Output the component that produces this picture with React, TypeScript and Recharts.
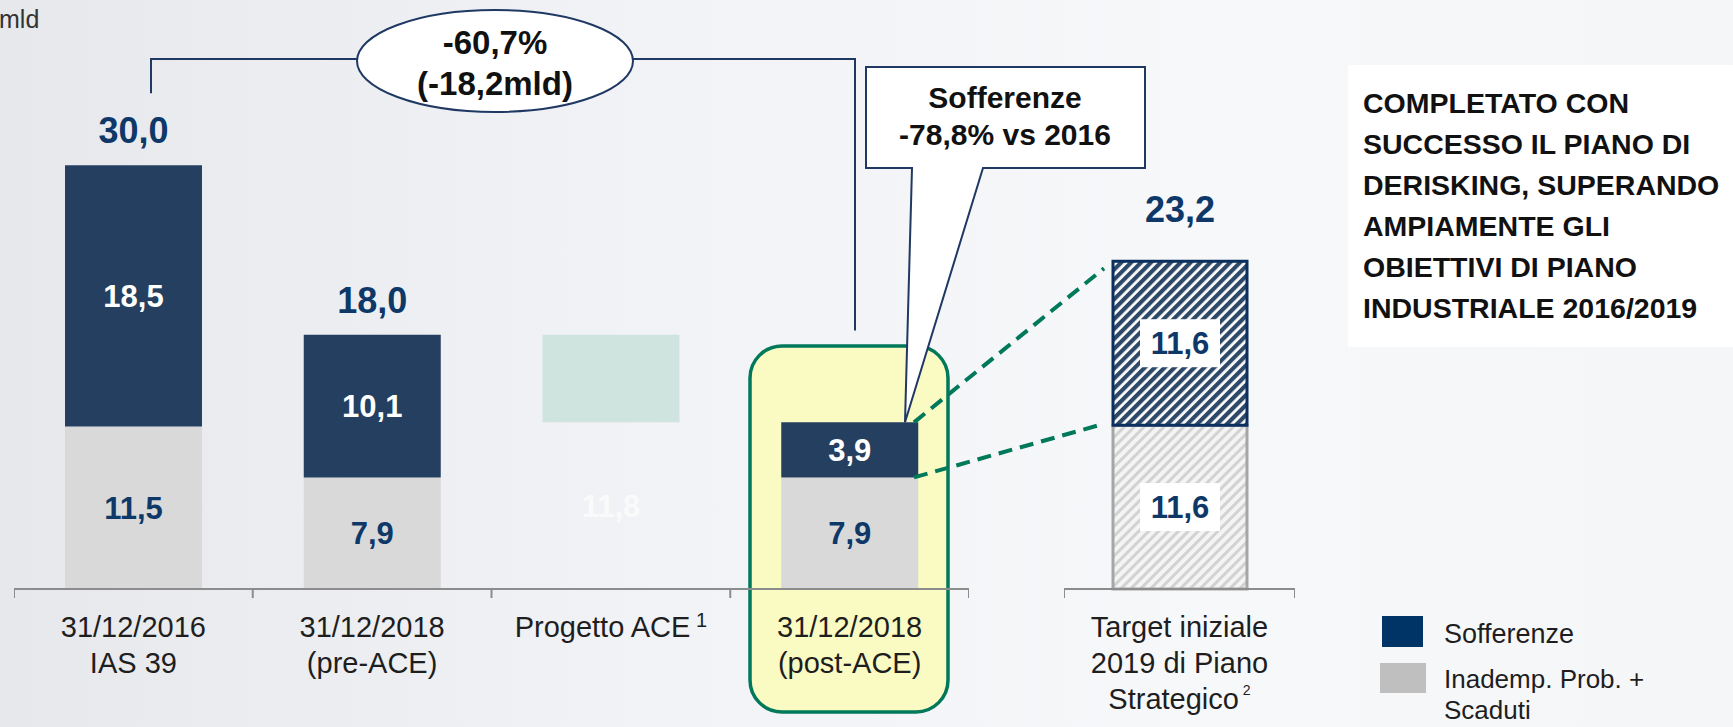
import React from 'react';
import { BarChart, Bar, XAxis, YAxis, LabelList } from 'recharts';

// ---------- data ----------
const categories = ['31/12/2016|IAS 39', '31/12/2018|(pre-ACE)', 'Progetto ACE', '31/12/2018|(post-ACE)'];
const categoryNotes = ['', '', '1', ''];
const inademp = [11.5, 7.9, 0, 7.9];
const sofferenze = [18.5, 10.1, 0, 3.9];
const aceBase = [0, 0, 11.8, 0];
const aceDelta = [0, 0, 6.2, 0];
const totalLabels = ['30,0', '18,0', '-6,2', '11,8'];

const targetCategory = 'Target iniziale|2019 di Piano|Strategico';
const targetNote = '2';
const targetInademp = [11.6];
const targetSofferenze = [11.6];
const targetTotal = ['23,2'];

const legendLabels = ['Sofferenze', 'Inademp. Prob. +|Scaduti'];
const rightText = ['COMPLETATO CON', 'SUCCESSO IL PIANO DI', 'DERISKING, SUPERANDO', 'AMPIAMENTE GLI', 'OBIETTIVI DI PIANO', 'INDUSTRIALE 2016/2019'];
const bracketText = ['-60,7%', '(-18,2mld)'];
const calloutText = ['Sofferenze', '-78,8% vs 2016'];

// ---------- layout ----------
const W = 1733;
const H = 727;
const PLOT_TOP = 24;
const AXIS_Y = 589;
const Y_MAX = 40;
const MAIN_LEFT = 14;
const MAIN_WIDTH = 955;
const TARGET_LEFT = 1064;
const TARGET_WIDTH = 231;
const FONT = '"Liberation Sans", Arial, sans-serif';
const NAVY = '#243F60';
const NAVY_TEXT = '#0E3868';
const GREY = '#D9D9D9';
const GREEN = '#00785A';

const yPx = (v: number) => AXIS_Y - (v * (AXIS_Y - PLOT_TOP)) / Y_MAX;

const mainData = categories.map((name, i) => ({
  name,
  note: categoryNotes[i],
  inademp: inademp[i],
  soff: sofferenze[i],
  base: aceBase[i],
  delta: aceDelta[i],
  total: totalLabels[i],
}));

const targetData = [
  { name: targetCategory, note: targetNote, inademp: targetInademp[0], soff: targetSofferenze[0], total: targetTotal[0] },
];

const fmt = (v: number) => v.toFixed(1).replace('.', ',');

const innerLabel = (color: string, opacity = 1) => (props: any) => {
  const { x, y, width, height, value } = props;
  if (!value) return null;
  return (
    <text
      x={Number(x) + Number(width) / 2}
      y={Number(y) + Number(height) / 2}
      dy="0.36em"
      textAnchor="middle"
      fill={color}
      fillOpacity={opacity}
      fontSize={31}
      fontWeight={700}
      fontFamily={FONT}
    >
      {fmt(Number(value))}
    </text>
  );
};

const boxedLabel = (props: any) => {
  const { x, y, width, height, value } = props;
  if (!value) return null;
  const cx = Number(x) + Number(width) / 2;
  const cy = Number(y) + Number(height) / 2;
  return (
    <g>
      <rect x={cx - 40} y={cy - 24} width={80} height={48} fill="#FFFFFF" />
      <text x={cx} y={cy} dy="0.36em" textAnchor="middle" fill={NAVY_TEXT} fontSize={31} fontWeight={700} fontFamily={FONT}>
        {fmt(Number(value))}
      </text>
    </g>
  );
};

const topLabel = (rows: any[], key: string, offset: number) => (props: any) => {
  const { x, y, width, index } = props;
  const row = rows[index];
  if (!row || !row[key]) return null;
  return (
    <text
      x={Number(x) + Number(width) / 2}
      y={Number(y) - offset}
      dy="0.36em"
      textAnchor="middle"
      fill={NAVY_TEXT}
      fontSize={36}
      fontWeight={700}
      fontFamily={FONT}
    >
      {row.total}
    </text>
  );
};

const makeTick = (bandWidth: number, count: number, rows: any[], edgesAll: boolean) => (props: any) => {
  const { x, payload, index } = props;
  const y = AXIS_Y;
  const lines = String(payload.value).split('|');
  const note = rows[index] ? rows[index].note : '';
  return (
    <g>
      <line x1={x - bandWidth / 2} x2={x - bandWidth / 2} y1={y} y2={y + 9} stroke="#8C8C8C" strokeWidth={2} />
      {(index === count - 1 || edgesAll) && (
        <line x1={x + bandWidth / 2} x2={x + bandWidth / 2} y1={y} y2={y + 9} stroke="#8C8C8C" strokeWidth={2} />
      )}
      <text textAnchor="middle" fill="#1E1E1E" fontSize={29} fontFamily={FONT}>
        {lines.map((l, i) => (
          <tspan key={i} x={x} y={y + 48 + i * 36}>
            {l}
            {i === lines.length - 1 && note ? (
              <tspan fontSize={i > 1 ? 14 : 20} dy={i > 1 ? -14 : -10}>{' ' + note}</tspan>
            ) : null}
          </tspan>
        ))}
      </text>
    </g>
  );
};

export default function App() {
  const mainBand = MAIN_WIDTH / categories.length;
  return (
    <div
      style={{
        position: 'fixed',
        left: 0,
        top: 0,
        width: W,
        height: H,
        overflow: 'hidden',
        background: 'linear-gradient(90deg, #E6E8EC 0%, #F1F2F5 35%, #F7F8FA 70%, #F5F6F8 100%)',
        fontFamily: FONT,
      }}
    >
      {/* highlight behind post-ACE column */}
      <svg width={W} height={H} style={{ position: 'absolute', left: 0, top: 0 }}>
        <rect x={750} y={346} width={198} height={366} rx={32} ry={32} fill="#FAFAC3" stroke={GREEN} strokeWidth={3.5} />
      </svg>

      <div style={{ position: 'absolute', left: MAIN_LEFT, top: 0 }}>
        <BarChart width={MAIN_WIDTH} height={H} data={mainData} margin={{ top: PLOT_TOP, right: 0, bottom: 0, left: 0 }} barSize={137}>
          <XAxis
            dataKey="name"
            height={H - AXIS_Y}
            axisLine={{ stroke: '#8C8C8C', strokeWidth: 2 }}
            tickLine={false}
            tickSize={0}
            tickMargin={0}
            interval={0}
            tick={makeTick(mainBand, categories.length, mainData, false)}
          />
          <YAxis hide domain={[0, Y_MAX]} />
          <Bar dataKey="inademp" stackId="s" fill={GREY} isAnimationActive={false}>
            <LabelList dataKey="inademp" content={innerLabel(NAVY_TEXT)} />
          </Bar>
          <Bar dataKey="soff" stackId="s" fill={NAVY} isAnimationActive={false}>
            <LabelList dataKey="soff" content={innerLabel('#FFFFFF')} />
            <LabelList dataKey="total" content={topLabel(mainData, 'soff', 35)} />
          </Bar>
          <Bar dataKey="base" stackId="s" fill="transparent" isAnimationActive={false}>
            <LabelList dataKey="base" content={innerLabel('#FFFFFF', 0.7)} />
          </Bar>
          <Bar dataKey="delta" stackId="s" fill="#CFE4DE" isAnimationActive={false}>
            <LabelList dataKey="total" content={topLabel(mainData, 'delta', 26)} />
          </Bar>
        </BarChart>
      </div>

      <div style={{ position: 'absolute', left: TARGET_LEFT, top: 0 }}>
        <BarChart width={TARGET_WIDTH} height={H} data={targetData} margin={{ top: PLOT_TOP, right: 0, bottom: 0, left: 0 }} barSize={134}>
          <defs>
            <pattern id="hatchNavy" patternUnits="userSpaceOnUse" width="7" height="7" patternTransform="rotate(45)">
              <rect width="7" height="7" fill="#FFFFFF" />
              <rect width="4.2" height="7" fill="#2E4868" />
            </pattern>
            <pattern id="hatchGrey" patternUnits="userSpaceOnUse" width="7" height="7" patternTransform="rotate(45)">
              <rect width="7" height="7" fill="#F4F4F4" />
              <rect width="3" height="7" fill="#D2D2D2" />
            </pattern>
          </defs>
          <XAxis
            dataKey="name"
            height={H - AXIS_Y}
            axisLine={{ stroke: '#8C8C8C', strokeWidth: 2 }}
            tickLine={false}
            tickSize={0}
            tickMargin={0}
            interval={0}
            tick={makeTick(TARGET_WIDTH, 1, targetData, true)}
          />
          <YAxis hide domain={[0, Y_MAX]} />
          <Bar dataKey="inademp" stackId="t" fill="url(#hatchGrey)" stroke="#A6A6A6" strokeWidth={3} isAnimationActive={false}>
            <LabelList dataKey="inademp" content={boxedLabel} />
          </Bar>
          <Bar dataKey="soff" stackId="t" fill="url(#hatchNavy)" stroke="#0B2F5E" strokeWidth={3} isAnimationActive={false}>
            <LabelList dataKey="soff" content={boxedLabel} />
            <LabelList dataKey="total" content={topLabel(targetData, 'soff', 52)} />
          </Bar>
        </BarChart>
      </div>

      {/* annotations */}
      <svg width={W} height={H} style={{ position: 'absolute', left: 0, top: 0, pointerEvents: 'none' }}>
        <text x={-1} y={28} fontSize={25} fill="#333" fontFamily={FONT}>mld</text>

        {/* bracket */}
        <polyline points={`151,${yPx(35.1)} 151,59 357,59`} fill="none" stroke="#1F3864" strokeWidth={2} />
        <polyline points={`633,59 855,59 855,${yPx(18.3)}`} fill="none" stroke="#1F3864" strokeWidth={2} />
        <ellipse cx={495} cy={61} rx={138} ry={51} fill="#FFFFFF" stroke="#1F3864" strokeWidth={2} />
        <text x={495} y={54} textAnchor="middle" fontSize={33} fontWeight={700} fill="#111" fontFamily={FONT}>{bracketText[0]}</text>
        <text x={495} y={95} textAnchor="middle" fontSize={33} fontWeight={700} fill="#111" fontFamily={FONT}>{bracketText[1]}</text>

        {/* callout */}
        <path
          d={`M866,67 L1145,67 L1145,168 L983,168 L905,${yPx(11.8)} L912,168 L866,168 Z`}
          fill="#FFFFFF"
          stroke="#1F3864"
          strokeWidth={2}
        />
        <text x={1005} y={108} textAnchor="middle" fontSize={30} fontWeight={700} fill="#111" fontFamily={FONT}>{calloutText[0]}</text>
        <text x={1005} y={145} textAnchor="middle" fontSize={30} fontWeight={700} fill="#111" fontFamily={FONT}>{calloutText[1]}</text>

        {/* dashed connectors */}
        <line x1={914} y1={yPx(11.8)} x2={1104} y2={yPx(22.7)} stroke={GREEN} strokeWidth={4} strokeDasharray="14 8" />
        <line x1={914} y1={yPx(7.9)} x2={1104} y2={yPx(11.7)} stroke={GREEN} strokeWidth={4} strokeDasharray="14 8" />

        {/* right text box */}
        <rect x={1348} y={65} width={W - 1348} height={282} fill="#FFFFFF" />
        {rightText.map((t, i) => (
          <text key={i} x={1363} y={113 + i * 41} fontSize={28.5} fontWeight={700} fill="#111" fontFamily={FONT}>{t}</text>
        ))}

        {/* legend */}
        <rect x={1382} y={616} width={41} height={31} fill="#003366" />
        <rect x={1380} y={663} width={46} height={30} fill="#BFBFBF" />
        <text x={1444} y={643} fontSize={27} fill="#1E1E1E" fontFamily={FONT}>{legendLabels[0]}</text>
        {legendLabels[1].split('|').map((t, i) => (
          <text key={i} x={1444} y={688 + i * 31} fontSize={26} fill="#1E1E1E" fontFamily={FONT}>{t}</text>
        ))}
      </svg>
    </div>
  );
}
